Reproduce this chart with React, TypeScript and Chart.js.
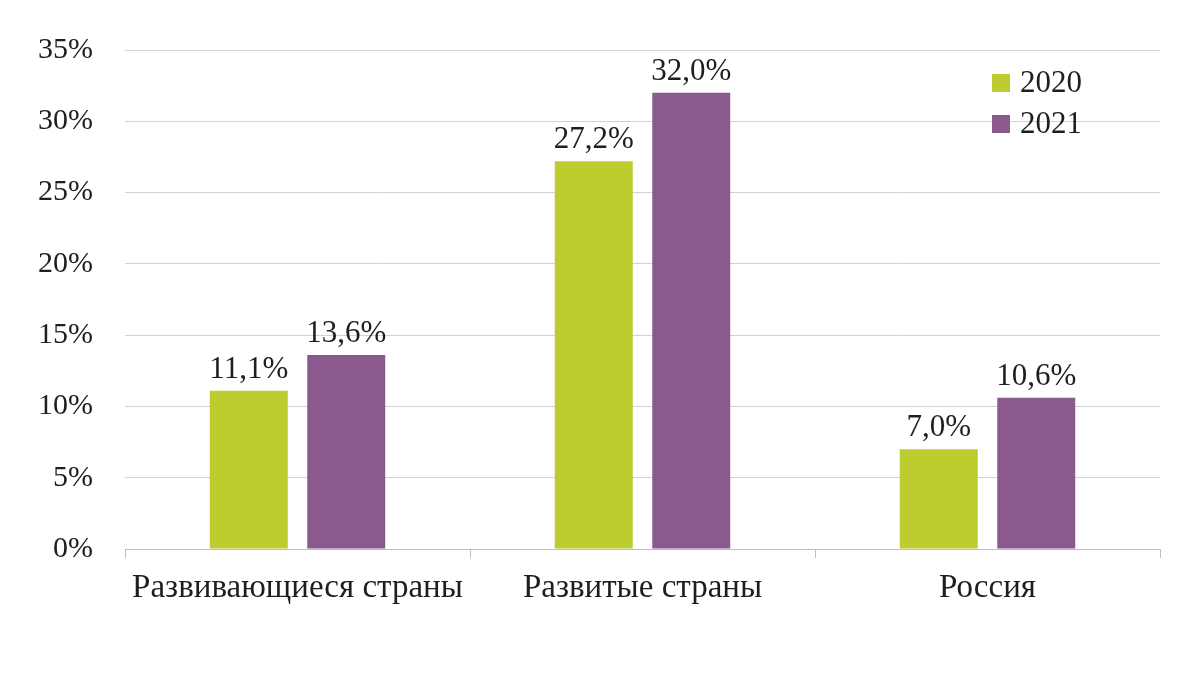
import React, { useEffect, useRef } from "react";
import { Chart, registerables } from "chart.js";

Chart.register(...registerables);

const categories = ["Развивающиеся страны", "Развитые страны", "Россия"];
const seriesLabels = ["2020", "2021"];
const values2020 = [11.1, 27.2, 7.0];
const values2021 = [13.6, 32.0, 10.6];
const seriesColors = ["#BDCD30", "#8A5A8E"];
const yMax = 35;
const yStep = 5;

const FONT = "'Liberation Serif', serif";
const TEXT_COLOR = "#1e1e1e";

const fmt = (v: number) => v.toFixed(1).replace(".", ",") + "%";

const valueLabels = {
  id: "valueLabels",
  afterDatasetsDraw(chart: any) {
    const ctx = chart.ctx;
    ctx.save();
    ctx.font = `31px ${FONT}`;
    ctx.fillStyle = TEXT_COLOR;
    ctx.textAlign = "center";
    ctx.textBaseline = "alphabetic";
    chart.data.datasets.forEach((ds: any, i: number) => {
      const meta = chart.getDatasetMeta(i);
      meta.data.forEach((el: any, j: number) => {
        ctx.fillText(fmt(ds.data[j]), el.x, el.y - 13);
      });
    });
    ctx.restore();
  },
};

const customLegend = {
  id: "customLegend",
  afterDraw(chart: any) {
    const ctx = chart.ctx;
    ctx.save();
    ctx.font = `31px ${FONT}`;
    ctx.textAlign = "left";
    ctx.textBaseline = "middle";
    const x = 992;
    const y0 = 83;
    const gap = 41;
    chart.data.datasets.forEach((ds: any, i: number) => {
      const y = y0 + i * gap;
      ctx.fillStyle = ds.backgroundColor;
      ctx.fillRect(x, y - 9, 18, 18);
      ctx.fillStyle = TEXT_COLOR;
      ctx.fillText(ds.label, x + 28, y + 1);
    });
    ctx.restore();
  },
};

export default function App() {
  const ref = useRef<HTMLCanvasElement>(null);
  useEffect(() => {
    if (!ref.current) return;
    const chart = new Chart(ref.current, {
      type: "bar",
      data: {
        labels: categories,
        datasets: [
          { label: seriesLabels[0], data: values2020, backgroundColor: seriesColors[0] },
          { label: seriesLabels[1], data: values2021, backgroundColor: seriesColors[1] },
        ],
      },
      options: {
        responsive: false,
        animation: false,
        events: [],
        layout: { padding: { top: 50, right: 40, left: 0, bottom: 0 } },
        datasets: {
          bar: { categoryPercentage: 0.565, barPercentage: 0.8 },
        },
        plugins: {
          legend: { display: false },
          tooltip: { enabled: false },
        },
        scales: {
          x: {
            offset: true,
            grid: {
              offset: true,
              drawOnChartArea: false,
              drawTicks: true,
              tickLength: 9,
              color: "#bdbdbd",
            },
            border: { display: true, color: "#bdbdbd", width: 1 },
            ticks: {
              color: TEXT_COLOR,
              font: { family: FONT, size: 33 },
              padding: 11,
              maxRotation: 0,
              autoSkip: false,
            },
            afterFit(scale: any) {
              scale.height = 126;
            },
          },
          y: {
            min: 0,
            max: yMax,
            grid: { color: "#d2d2d2", drawTicks: false, lineWidth: 1 },
            border: { display: false },
            ticks: {
              stepSize: yStep,
              color: TEXT_COLOR,
              font: { family: FONT, size: 30 },
              padding: 32,
              callback: (v: any) => v + "%",
            },
            afterFit(scale: any) {
              scale.width = 125;
            },
          },
        },
      },
      plugins: [valueLabels, customLegend],
    });
    return () => chart.destroy();
  }, []);
  return (
    <div style={{ position: "absolute", left: 0, top: 0, width: 1200, height: 675, background: "#fff" }}>
      <canvas ref={ref} width={1200} height={675} style={{ display: "block" }} />
    </div>
  );
}
